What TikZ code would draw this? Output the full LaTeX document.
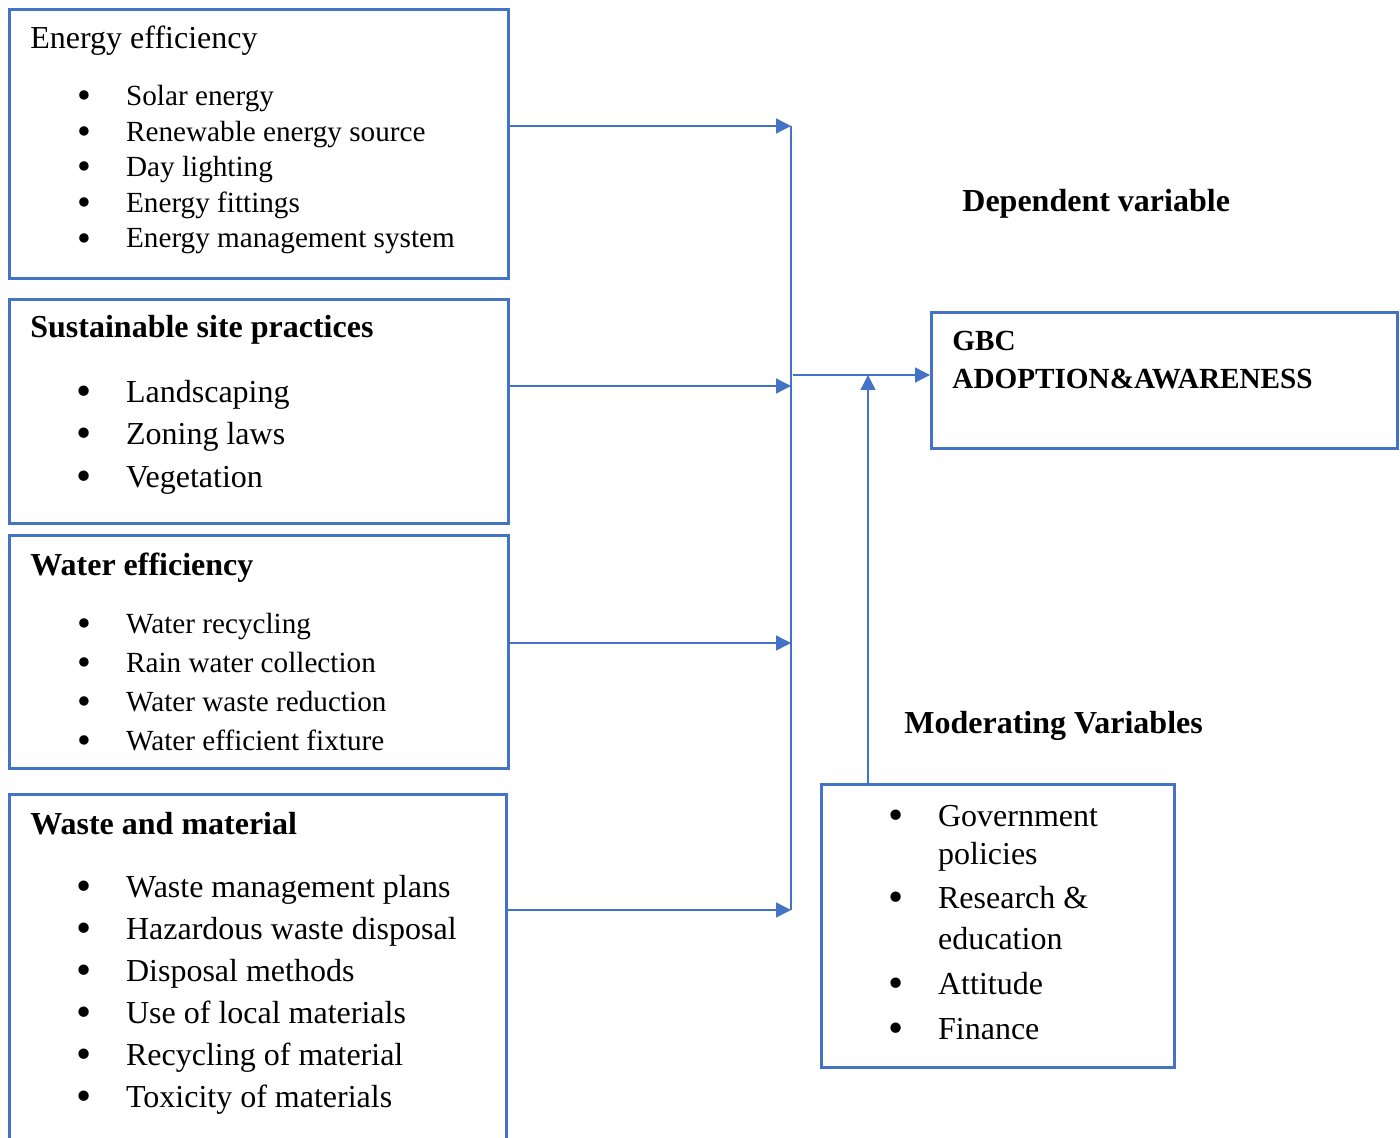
\documentclass[tikz,border=0pt]{standalone}
\usepackage{fontspec}
\setmainfont{Liberation Serif}
\usepackage{tikz}
\usetikzlibrary{positioning,arrows.meta}

\definecolor{wordblue}{HTML}{4472C4}
\newcommand{\bul}{\makebox[20.85pt][l]{\makebox[0pt]{\raisebox{-1.6pt}{\scalebox{1.35}{\textbullet}}}}}
\newcommand{\cont}{\hspace*{20.85pt}}

\begin{document}
\begin{tikzpicture}[
    x=0.5pt, y=-0.5pt,
    box/.style={draw=wordblue, line width=1.3pt, rectangle, inner sep=0pt, anchor=north west},
    arr/.style={-{Triangle[length=7.5pt, width=7.5pt]}, draw=wordblue, fill=wordblue, line width=0.7pt},
    bar/.style={draw=wordblue, line width=0.7pt},
    head/.style={anchor=base west, inner sep=0pt, font=\fontsize{16}{19}\selectfont\bfseries},
    list/.style={anchor=base west, inner sep=0pt, align=left},
    small/.style={font=\fontsize{14.6}{17.8}\selectfont},
    big/.style={font=\fontsize{16}{21.2}\selectfont},
]
\useasboundingbox (0,0) rectangle (1400,1138);
\clip (0,0) rectangle (1400,1138);

% Left column: independent variables
\node[box, minimum width=249.5pt, minimum height=134.5pt] (energy) at (8,8) {};
\node[box, minimum width=249.5pt, minimum height=112pt] (site) at (8,298) {};
\node[box, minimum width=249.5pt, minimum height=116.5pt] (water) at (8,534) {};
\node[box, minimum width=248.5pt, minimum height=190pt] (waste) at (8,793) {};

% lists are placed by the baseline of their last line
\node[head, font=\fontsize{16}{19}\selectfont] (energyhd) at (30,49) {Energy efficiency};
\node[list, small] (energylist) at (84,248) {\bul Solar energy\\ \bul Renewable energy source\\ \bul Day lighting\\ \bul Energy fittings\\ \bul Energy management system};

\node[head] (sitehd) at (30,338) {Sustainable site practices};
\node[list, big] (sitelist) at (84,487) {\bul Landscaping\\ \bul Zoning laws\\ \bul Vegetation};

\node[head] (waterhd) at (30,575) {Water efficiency};
\node[list, font=\fontsize{14.6}{19.5}\selectfont] (waterlist) at (84,750) {\bul Water recycling\\ \bul Rain water collection\\ \bul Water waste reduction\\ \bul Water efficient fixture};

\node[head] (wastehd) at (30,834) {Waste and material};
\node[list, font=\fontsize{16}{21}\selectfont] (wastelist) at (84,1107) {\bul Waste management plans\\ \bul Hazardous waste disposal\\ \bul Disposal methods\\ \bul Use of local materials\\ \bul Recycling of material\\ \bul Toxicity of materials};

% Right column: dependent and moderating variables
\node[head] (dephd) at (962,212) {Dependent variable};
\node[box, minimum width=233pt, minimum height=68pt] (gbc) at (930,311) {};
\node[list, font=\fontsize{14.6}{18.5}\selectfont\bfseries] (gbctext) at (952,388) {GBC\\ADOPTION\&AWARENESS};

\node[head] (modhd) at (904,733) {Moderating Variables};
\node[box, minimum width=176.5pt, minimum height=141.5pt] (moder) at (820,783) {};
\node[list, font=\fontsize{16}{19}\selectfont] (modlist) at (896,1039) {\bul Government\\ \cont policies\\[3pt] \bul Research \&\\[1.5pt] \cont education\\[3.5pt] \bul Attitude\\[3.5pt] \bul Finance};

% Collector bar and arrows
\coordinate (t1) at (791,126);
\coordinate (t2) at (791,386);
\coordinate (t3) at (791,643);
\coordinate (t4) at (791,910);
\draw[arr] (energy.east |- t1) -- (t1);
\draw[arr] (site.east |- t2) -- (t2);
\draw[arr] (water.east |- t3) -- (t3);
\draw[arr] (waste.east |- t4) -- (t4);
\draw[bar] (t1) -- (t4);

\coordinate (mid) at (793,375);
\coordinate (up) at (868,375);
\draw[arr] (mid) -- (gbc.west |- mid);
\draw[arr] (moder.north -| up) -- (up);

\end{tikzpicture}
\end{document}
